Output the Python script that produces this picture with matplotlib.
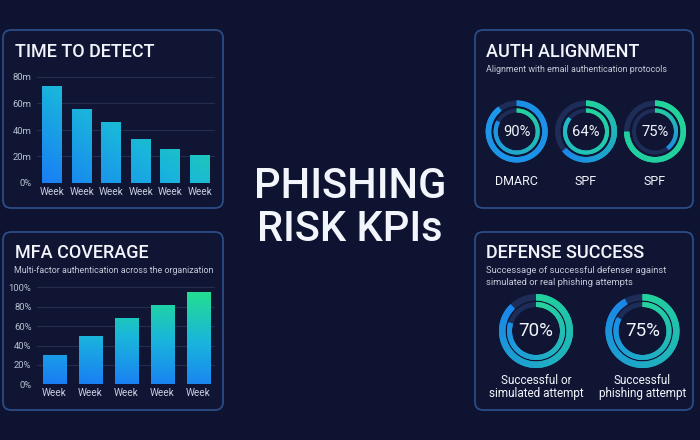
import matplotlib
matplotlib.use("Agg")
import matplotlib.pyplot as plt
import numpy as np
from matplotlib.colors import LinearSegmentedColormap, to_rgb
from matplotlib.patches import FancyBboxPatch, Wedge

plt.rcParams["font.family"] = ["Roboto", "DejaVu Sans"]

# data
detect_weeks = ["Week", "Week", "Week", "Week", "Week", "Week"]
detect_minutes = [73, 56, 46, 33, 26, 21]
detect_ticks = [0, 20, 40, 60, 80]
detect_tick_labels = ["0%", "20m", "40m", "60m", "80m"]

mfa_weeks = ["Week", "Week", "Week", "Week", "Week"]
mfa_coverage = [30, 50, 68, 82, 95]
mfa_ticks = [0, 20, 40, 60, 80, 100]
mfa_tick_labels = ["0%", "20%", "40%", "60%", "80%", "100%"]

auth_labels = ["DMARC", "SPF", "SPF"]
auth_values = [90, 64, 75]
auth_inner = [83, 86, 40]

defense_labels = ["Successful or\nsimulated attempt", "Successful\nphishing attempt"]
defense_values = [70, 75]
defense_outer = [88, 92]
defense_inner = [80, 83]

BG = "#0d1330"
PANEL = "#0f1533"
EDGE = "#2b4c85"
TRACK = "#1d2d57"
WHITE = "#f2f5fb"
SUB = "#c5cbd8"
BLUE = "#1a7cf5"
CYAN = "#19b5dc"
GREEN = "#22e08f"
grad = LinearSegmentedColormap.from_list("g", [BLUE, CYAN, GREEN])

W, H = 700, 440
fig = plt.figure(figsize=(7, 4.4), dpi=100, facecolor=BG)
bg = fig.add_axes([0, 0, 1, 1])
bg.set_xlim(0, W)
bg.set_ylim(0, H)
bg.axis("off")


def Y(py):
    return H - py


def panel(x0, y0, x1, y1):
    bg.add_patch(FancyBboxPatch((x0, Y(y1)), x1 - x0, y1 - y0,
                                boxstyle="round,pad=0,rounding_size=8",
                                fc=PANEL, ec=EDGE, lw=1.3))


for box in [(3, 30, 223, 208), (3, 232, 223, 410), (475, 30, 693, 208), (475, 232, 693, 410)]:
    panel(*box)

# titles
bg.text(15, Y(52), "TIME TO DETECT", color=WHITE, fontsize=13, weight="medium", va="center")
bg.text(15, Y(253), "MFA COVERAGE", color=WHITE, fontsize=13, weight="medium", va="center")
bg.text(14, Y(270), "Multi-factor authentication across the organization", color=SUB,
        fontsize=6.4, va="center")
bg.text(486, Y(52), "AUTH ALIGNMENT", color=WHITE, fontsize=13, weight="medium", va="center")
bg.text(486, Y(69), "Alignment with email authentication protocols", color=SUB,
        fontsize=6.4, va="center")
bg.text(486, Y(253), "DEFENSE SUCCESS", color=WHITE, fontsize=13, weight="medium", va="center")
bg.text(486, Y(270), "Successage of successful defenser against", color=SUB,
        fontsize=6.75, va="center")
bg.text(486, Y(282), "simulated or real phishing attempts", color=SUB,
        fontsize=6.75, va="center")

bg.text(350, Y(186), "PHISHING", color=WHITE, fontsize=30, weight="medium",
        ha="center", va="center")
bg.text(350, Y(229), "RISK KPIs", color=WHITE, fontsize=30, weight="medium",
        ha="center", va="center")


def bar_axes(left, right, bottom, top):
    ax = fig.add_axes([left / W, 1 - bottom / H, (right - left) / W, (bottom - top) / H])
    ax.set_facecolor("none")
    for s in ax.spines.values():
        s.set_visible(False)
    ax.tick_params(length=0, colors="#b8c0d0", labelsize=6.8)
    ax.tick_params(axis="y", pad=4)
    ax.tick_params(axis="x", pad=3, labelcolor="#c8d0e0", labelsize=7.2)
    ax.grid(axis="y", color="#222d50", lw=0.8)
    ax.set_axisbelow(True)
    return ax


def gradient_bars(ax, values, width, wx, wy, ymax):
    bars = ax.bar(range(len(values)), values, width=width, color="none")
    xlim, ylim = ax.get_xlim(), ax.get_ylim()
    xs = np.linspace(0, 1, 200)
    ys = np.linspace(0, 1, 200)
    gx, gy = np.meshgrid(xs, ys)
    t = np.clip(wx * gx + wy * gy, 0, 1)
    for b in bars:
        im = ax.imshow(t, cmap=grad, vmin=0, vmax=1, origin="lower", aspect="auto",
                       extent=[xlim[0], xlim[1], 0, ymax], zorder=2)
        im.set_clip_path(b)
    ax.set_xlim(xlim)
    ax.set_ylim(ylim)


# time to detect
ax1 = bar_axes(37, 215, 183, 183 - 106 * 1.02)
ax1.set_xlim(-0.507, 5.507)
ax1.set_ylim(0, 80 * 1.02)
gradient_bars(ax1, detect_minutes, 0.675, 0.6, 0.5, 80)
ax1.set_yticks(detect_ticks)
ax1.set_yticklabels(detect_tick_labels)
ax1.set_xticks(range(len(detect_weeks)))
ax1.set_xticklabels(detect_weeks)

# mfa coverage
ax2 = bar_axes(37, 215, 384.3, 384.3 - 97 * 1.02)
ax2.set_xlim(-0.48, 4.47)
ax2.set_ylim(0, 100 * 1.02)
gradient_bars(ax2, mfa_coverage, 0.64, 0.1, 0.95, 100)
ax2.set_yticks(mfa_ticks)
ax2.set_yticklabels(mfa_tick_labels)
ax2.set_xticks(range(len(mfa_weeks)))
ax2.set_xticklabels(mfa_weeks)


def ring(cx, cy, r, w, frac, c0, c1, n=90):
    bg.add_patch(Wedge((cx, cy), r, 0, 360, width=w, fc=TRACK, ec="none"))
    span = 360 * frac / 100
    step = span / n
    a0, a1 = np.array(to_rgb(c0)), np.array(to_rgb(c1))
    # draw from the far end back to the top so each piece covers the seam of the previous
    for i in reversed(range(n)):
        t = i / (n - 1)
        th2 = 90 - step * i
        th1 = 90 - step * (i + 1)
        bg.add_patch(Wedge((cx, cy), r, th1, min(th2 + step, 90), width=w,
                           fc=a0 + (a1 - a0) * t, ec="none"))


# auth alignment donuts
auth_x = [516.7, 586, 655]
auth_outer_colors = [("#1a8fe6", "#1d97ea"), ("#22d39a", "#1a86ea"), ("#22d39a", "#20cfa0")]
auth_inner_colors = [("#25d49a", "#1b8fe8"), ("#25d49a", "#1fb8c8"), ("#25d49a", "#1b8fe8")]
for i, cx in enumerate(auth_x):
    cy = Y(131.5)
    ring(cx, cy, 31, 5.5, auth_values[i], *auth_outer_colors[i])
    ring(cx, cy, 23, 4, auth_inner[i], *auth_inner_colors[i])
    bg.text(cx, cy, f"{auth_values[i]}%", color=WHITE, fontsize=10.6,
            ha="center", va="center")
    bg.text(cx, Y(181), auth_labels[i], color=WHITE, fontsize=9, ha="center", va="center")

# defense success donuts
defense_x = [536, 642.5]
for i, cx in enumerate(defense_x):
    cy = Y(331)
    ring(cx, cy, 37, 6.5, defense_outer[i], "#22d39a", "#1a86ea")
    ring(cx, cy, 29, 5, defense_inner[i], "#25d49a", "#1b8fe8")
    bg.text(cx, cy, f"{defense_values[i]}%", color=WHITE, fontsize=13.5,
            ha="center", va="center")
    bg.text(cx, Y(387), defense_labels[i], color=WHITE, fontsize=8.5, ha="center",
            va="center", linespacing=1.05)

fig.savefig("out.png", dpi=100, facecolor=BG)
